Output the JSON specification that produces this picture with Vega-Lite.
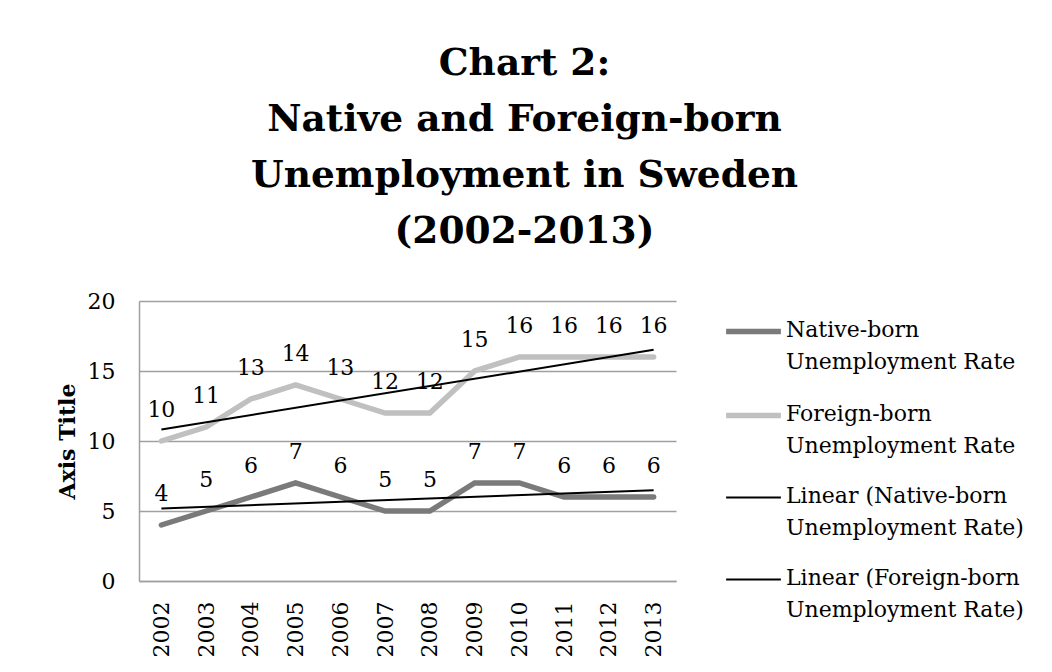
{
  "$schema": "https://vega.github.io/schema/vega-lite/v6.json",
  "autosize": {"type": "none"},
  "width": 537,
  "height": 280,
  "padding": {"left": 139, "top": 301, "right": 376, "bottom": 91},
  "background": "white",
  "config": {
    "font": "DejaVu Serif",
    "view": {"stroke": null}
  },
  "title": {
    "text": ["Chart 2:", "Native and Foreign-born", "Unemployment in Sweden", "(2002-2013)"],
    "font": "DejaVu Serif",
    "fontSize": 37.5,
    "fontWeight": "bold",
    "color": "black",
    "anchor": "middle",
    "frame": "group",
    "dx": 117,
    "lineHeight": 56,
    "offset": 40
  },
  "data": {
    "values": [
      {"year": 2002, "series": "Native-born Unemployment Rate", "value": 4},
      {"year": 2003, "series": "Native-born Unemployment Rate", "value": 5},
      {"year": 2004, "series": "Native-born Unemployment Rate", "value": 6},
      {"year": 2005, "series": "Native-born Unemployment Rate", "value": 7},
      {"year": 2006, "series": "Native-born Unemployment Rate", "value": 6},
      {"year": 2007, "series": "Native-born Unemployment Rate", "value": 5},
      {"year": 2008, "series": "Native-born Unemployment Rate", "value": 5},
      {"year": 2009, "series": "Native-born Unemployment Rate", "value": 7},
      {"year": 2010, "series": "Native-born Unemployment Rate", "value": 7},
      {"year": 2011, "series": "Native-born Unemployment Rate", "value": 6},
      {"year": 2012, "series": "Native-born Unemployment Rate", "value": 6},
      {"year": 2013, "series": "Native-born Unemployment Rate", "value": 6},
      {"year": 2002, "series": "Foreign-born Unemployment Rate", "value": 10},
      {"year": 2003, "series": "Foreign-born Unemployment Rate", "value": 11},
      {"year": 2004, "series": "Foreign-born Unemployment Rate", "value": 13},
      {"year": 2005, "series": "Foreign-born Unemployment Rate", "value": 14},
      {"year": 2006, "series": "Foreign-born Unemployment Rate", "value": 13},
      {"year": 2007, "series": "Foreign-born Unemployment Rate", "value": 12},
      {"year": 2008, "series": "Foreign-born Unemployment Rate", "value": 12},
      {"year": 2009, "series": "Foreign-born Unemployment Rate", "value": 15},
      {"year": 2010, "series": "Foreign-born Unemployment Rate", "value": 16},
      {"year": 2011, "series": "Foreign-born Unemployment Rate", "value": 16},
      {"year": 2012, "series": "Foreign-born Unemployment Rate", "value": 16},
      {"year": 2013, "series": "Foreign-born Unemployment Rate", "value": 16}
    ]
  },
  "encoding": {
    "x": {
      "field": "year",
      "type": "quantitative",
      "scale": {"domain": [2001.5, 2013.5], "nice": false, "zero": false},
      "axis": {
        "title": null,
        "values": [2002, 2003, 2004, 2005, 2006, 2007, 2008, 2009, 2010, 2011, 2012, 2013],
        "format": "d",
        "labelAngle": -90,
        "labelAlign": "right",
        "labelBaseline": "middle",
        "labelFontSize": 22,
        "labelFont": "DejaVu Serif",
        "labelColor": "black",
        "labelPadding": 20,
        "ticks": false,
        "grid": false,
        "domainColor": "#a0a0a0",
        "domainWidth": 1.5
      }
    },
    "y": {
      "field": "value",
      "type": "quantitative",
      "scale": {"domain": [0, 20], "nice": false},
      "axis": {
        "title": "Axis Title",
        "titleFont": "DejaVu Serif",
        "titleFontSize": 22,
        "titleFontWeight": "bold",
        "titleColor": "black",
        "titlePadding": 8,
        "values": [0, 5, 10, 15, 20],
        "labelFontSize": 22,
        "labelFont": "DejaVu Serif",
        "labelColor": "black",
        "labelPadding": 24,
        "ticks": false,
        "grid": true,
        "gridColor": "#a0a0a0",
        "gridWidth": 1.5,
        "domainColor": "#a0a0a0",
        "domainWidth": 1.5
      }
    },
    "color": {
      "field": "series",
      "type": "nominal",
      "scale": {
        "domain": ["Native-born Unemployment Rate", "Foreign-born Unemployment Rate", "Linear (Native-born Unemployment Rate)", "Linear (Foreign-born Unemployment Rate)"],
        "range": ["#7a7a7a", "#c0c0c0", "#000000", "#000000"]
      },
      "legend": {
        "title": null,
        "orient": "right",
        "offset": 47,
        "padding": 0,
        "symbolType": "stroke",
        "symbolSize": 3000,
        "symbolStrokeCap": "round",
        "labelFont": "DejaVu Serif",
        "labelFontSize": 22,
        "labelColor": "black",
        "labelLimit": 400,
        "labelOffset": 2,
        "labelBaseline": "top",
        "labelExpr": "split(replace(datum.label, ' Unemployment', '|Unemployment'), '|')",
        "rowPadding": 12,
        "encode": {
          "labels": {"update": {"lineHeight": {"value": 32}, "dy": {"value": -12}}}
        }
      }
    },
    "strokeWidth": {
      "field": "series",
      "type": "nominal",
      "scale": {
        "type": "ordinal",
        "domain": ["Native-born Unemployment Rate", "Foreign-born Unemployment Rate", "Linear (Native-born Unemployment Rate)", "Linear (Foreign-born Unemployment Rate)"],
        "range": [5.5, 5.5, 2, 2]
      },
      "legend": {
        "title": null
      }
    }
  },
  "layer": [
    {
      "mark": {"type": "line", "strokeCap": "round", "strokeJoin": "miter"}
    },
    {
      "transform": [
        {"regression": "value", "on": "year", "groupby": ["series"], "extent": [2002, 2013]},
        {"calculate": "'Linear (' + datum.series + ')'", "as": "series"}
      ],
      "mark": {"type": "line"}
    },
    {
      "mark": {"type": "text", "font": "DejaVu Serif", "fontSize": 22, "dy": -24, "baseline": "alphabetic", "color": "black"},
      "encoding": {
        "text": {"field": "value", "type": "quantitative"},
        "color": {"value": "black"},
        "strokeWidth": {"value": 0}
      }
    }
  ]
}
